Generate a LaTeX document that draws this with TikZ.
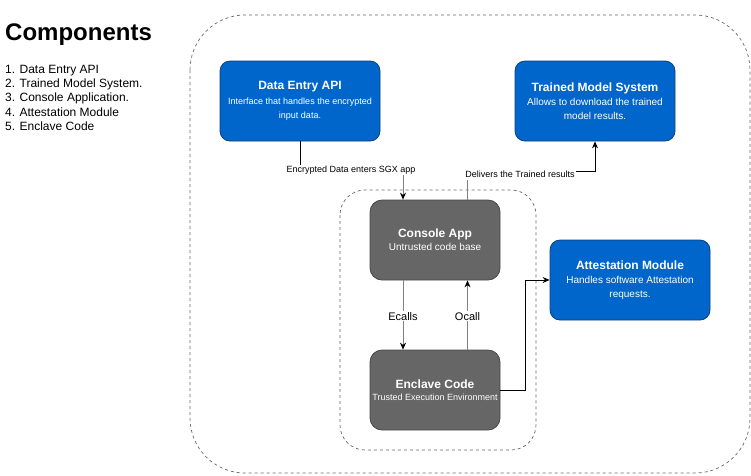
\documentclass[tikz,border=0pt]{standalone}
\usepackage{fontspec}
\setmainfont{Liberation Sans}
\usetikzlibrary{arrows.meta,calc}
\definecolor{boxblue}{HTML}{0066CC}
\definecolor{boxblueline}{HTML}{0F3F78}
\definecolor{boxgray}{HTML}{666666}
\definecolor{boxgrayline}{HTML}{474747}
\definecolor{edgegray}{HTML}{808080}
\definecolor{dashgray}{HTML}{666666}
\begin{document}
\begin{tikzpicture}[x=1pt,y=-1pt,
  bluebox/.style={draw=boxblueline, fill=boxblue, rounded corners=10pt, minimum width=160pt, minimum height=80pt, text=white, align=center, inner sep=0pt, line width=0.8pt},
  graybox/.style={draw=boxgrayline, fill=boxgray, rounded corners=12pt, minimum width=130pt, minimum height=80pt, text=white, align=center, inner sep=0pt, line width=0.8pt},
  container/.style={draw=dashgray, dash pattern=on 3pt off 3pt, line width=0.7pt},
  edgelabel/.style={fill=white, inner xsep=1pt, inner ysep=1pt, font=\fontsize{9}{10.8}\selectfont, text height=6.8pt, text depth=2pt},
  calllabel/.style={fill=white, inner xsep=1pt, inner ysep=1pt, font=\fontsize{11}{13}\selectfont},
  flow/.style={line width=0.8pt, -{Stealth[length=7pt,width=6pt,inset=2.3pt,color=black]}},
  plain/.style={line width=0.8pt},
  listitem/.style={anchor=base west, font=\fontsize{12}{14.4}\selectfont, inner sep=0pt}
]
\useasboundingbox (0,0) rectangle (751,475);

% left legend
\node[anchor=base west, inner sep=0pt, font=\fontsize{24}{29}\selectfont\bfseries] (legendtitle) at (5,40.5) {Components};
\foreach \t [count=\i] in {1. Data Entry API, 2. Trained Model System., 3. Console Application., 4. Attestation Module, 5. Enclave Code}
  \node[listitem] (item\i) at (5,{73+14.4*(\i-1)}) {\t};

% containers
\draw[container, rounded corners=55pt] (190,15) rectangle (750,473);
\draw[container, rounded corners=25pt] (340,190) rectangle (536,450);

% boxes
\node[bluebox, font=\fontsize{9}{14}\selectfont] (dataentry) at (300,101)
  {{\fontsize{12}{14}\selectfont\bfseries Data Entry API}\\[0.5pt] Interface that handles the encrypted\\ input data.};
\node[bluebox, font=\fontsize{10}{14}\selectfont] (trained) at (595,101)
  {{\fontsize{12}{14}\selectfont\bfseries Trained Model System}\\[0.5pt] Allows to download the trained\\ model results.};
\node[bluebox, font=\fontsize{10}{14}\selectfont] (attest) at (630,280)
  {{\fontsize{12}{14}\selectfont\bfseries Attestation Module}\\[0.5pt] Handles software Attestation\\ requests.};
\node[graybox, font=\fontsize{10}{12.8}\selectfont] (console) at (435,240)
  {{\fontsize{12}{14}\selectfont\bfseries Console App}\\ Untrusted code base};
\node[graybox, font=\fontsize{9}{12.4}\selectfont] (enclave) at (435,390)
  {{\fontsize{12}{14}\selectfont\bfseries Enclave Code}\\ Trusted Execution Environment};

% Encrypted data edge
\coordinate (ebend) at (403,171);
\draw[plain] (dataentry.south) |- (ebend);
\draw[flow, draw=edgegray] (ebend) -- ([xshift=-32pt]console.north);
\node[edgelabel] (enclbl) at (351,170) {Encrypted Data enters SGX app};

% Delivers edge
\coordinate (dbend) at (467.5,171);
\draw[plain, draw=edgegray] ([xshift=32.5pt]console.north) -- (dbend);
\draw[flow] (dbend) -| (trained.south);
\node[edgelabel] (dellbl) at (520,175) {Delivers the Trained results};

% Ecalls / Ocall
\draw[flow, draw=edgegray] ([xshift=-32pt]console.south) -- ([xshift=-32pt]enclave.north)
  node[calllabel, pos=0.52] (ecalls) {Ecalls};
\draw[flow, draw=edgegray] ([xshift=32.5pt]enclave.north) -- ([xshift=32.5pt]console.south)
  node[calllabel, pos=0.48] (ocall) {Ocall};

% Enclave -> Attestation
\draw[flow] (enclave.east) -- ++(25,0) |- (attest.west);
\end{tikzpicture}
\end{document}
